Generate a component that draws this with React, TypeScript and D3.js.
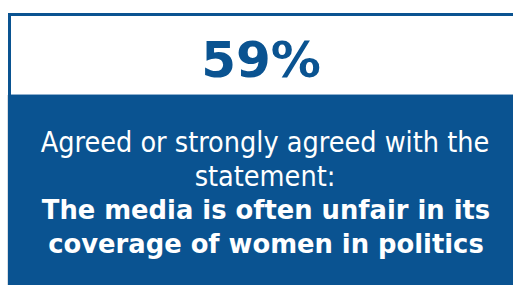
import React from "react";
import * as d3 from "d3";

const statValues = [59];
const statUnits = ["%"];
const introLines = ["Agreed or strongly agreed with the", "statement:"];
const statementLines = ["The media is often unfair in its", "coverage of women in politics"];

const W = 513;
const H = 285;
const BLUE = "#0A5391";

export default function App() {
  const fmt = d3.format("d");
  const cx = 265;
  const lineY = d3.scalePoint<number>().domain([0, 1, 2, 3]).range([152, 253]);
  return (
    <svg
      width={W}
      height={H}
      style={{ position: "absolute", left: 0, top: 0, display: "block" }}
      fontFamily="'DejaVu Sans Condensed', 'DejaVu Sans', sans-serif"
    >
      <rect x={0} y={0} width={W} height={H} fill="#ffffff" />
      <rect x={8} y={13} width={W - 8} height={H - 13} fill={BLUE} />
      <rect x={11} y={16} width={W - 11} height={78} fill="#ffffff" />
      <line x1={11} x2={W} y1={94.5} y2={94.5} stroke="#8fb0cf" strokeWidth={1} />
      <line x1={7.5} x2={7.5} y1={95} y2={H} stroke="#d8dde3" strokeWidth={1} />
      <text
        x={261}
        y={77}
        textAnchor="middle"
        fontFamily="'DejaVu Sans', sans-serif"
        fontWeight="bold"
        fontSize={50}
        fill={BLUE}
      >
        {statValues.map((v, i) => fmt(v) + statUnits[i]).join("")}
      </text>
      {introLines.map((t, i) => (
        <text key={"i" + i} x={cx} y={lineY(i)} textAnchor="middle" fontSize={28.5} fill="#ffffff">
          {t}
        </text>
      ))}
      {statementLines.map((t, i) => (
        <text
          key={"s" + i}
          x={cx + 1}
          y={lineY(i + 2)}
          textAnchor="middle"
          fontFamily="'DejaVu Sans', sans-serif"
          fontSize={25.8}
          fontWeight="bold"
          fill="#ffffff"
        >
          {t}
        </text>
      ))}
    </svg>
  );
}
